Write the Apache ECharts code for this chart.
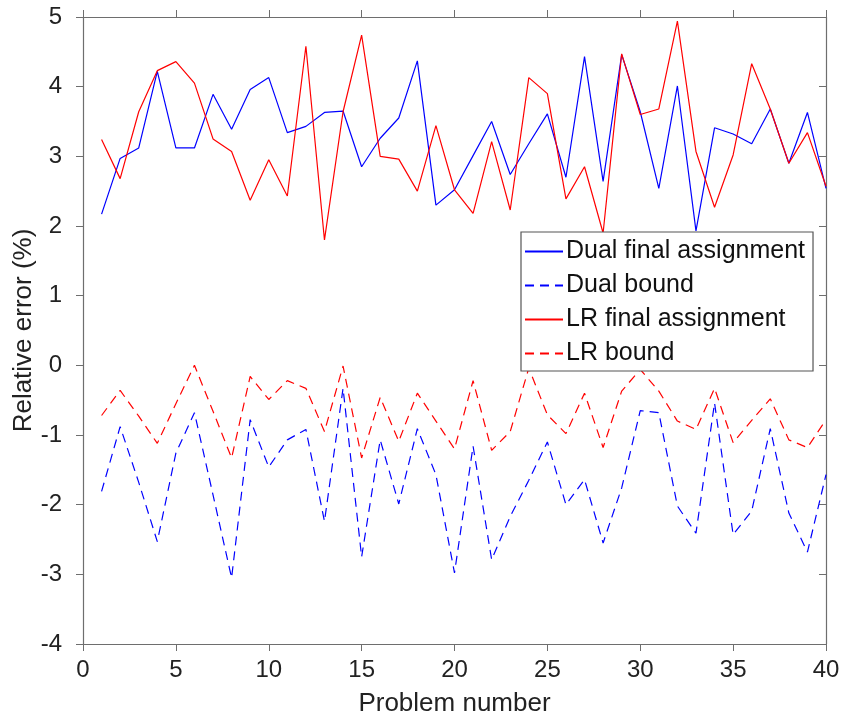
<!DOCTYPE html>
<html>
<head>
<meta charset="utf-8">
<script src="https://cdn.jsdelivr.net/npm/echarts@6/dist/echarts.min.js"></script>
<style>html,body{margin:0;padding:0;background:#fff}#c{width:842px;height:721px}</style>
</head>
<body>
<div id="c"></div>
<script>
const problemNumbers = [1,2,3,4,5,6,7,8,9,10,11,12,13,14,15,16,17,18,19,20,21,22,23,24,25,26,27,28,29,30,31,32,33,34,35,36,37,38,39,40];
const dualFinal = [2.17,2.97,3.12,4.22,3.12,3.12,3.89,3.39,3.96,4.13,3.34,3.43,3.63,3.65,2.85,3.26,3.55,4.37,2.30,2.52,3.01,3.50,2.74,3.18,3.61,2.70,4.43,2.64,4.46,3.64,2.54,4.01,1.93,3.41,3.32,3.18,3.68,2.90,3.63,2.54];
const dualBound = [-1.81,-0.88,-1.68,-2.53,-1.26,-0.68,-1.86,-3.05,-0.78,-1.46,-1.07,-0.92,-2.24,-0.33,-2.75,-1.07,-1.99,-0.91,-1.57,-2.98,-1.16,-2.79,-2.17,-1.65,-1.10,-2.00,-1.64,-2.55,-1.76,-0.65,-0.68,-2.02,-2.41,-0.54,-2.43,-2.09,-0.91,-2.12,-2.68,-1.57];
const lrFinal = [3.24,2.68,3.64,4.23,4.36,4.05,3.25,3.07,2.37,2.95,2.43,4.58,1.80,3.64,4.74,3.00,2.96,2.50,3.44,2.52,2.18,3.21,2.23,4.13,3.90,2.39,2.85,1.90,4.47,3.60,3.68,4.94,3.07,2.27,3.02,4.33,3.68,2.90,3.34,2.57];
const lrBound = [-0.72,-0.36,-0.73,-1.12,-0.55,0.0,-0.66,-1.33,-0.16,-0.49,-0.22,-0.33,-0.95,-0.01,-1.33,-0.46,-1.09,-0.40,-0.80,-1.20,-0.22,-1.22,-0.95,-0.04,-0.71,-0.98,-0.40,-1.18,-0.37,-0.06,-0.37,-0.80,-0.92,-0.33,-1.11,-0.79,-0.48,-1.07,-1.18,-0.78];
const seriesNames = ['Dual final assignment','Dual bound','LR final assignment','LR bound'];
const xTicks = {min:0, max:40, interval:5};
const yTicks = {min:-4, max:5, interval:1};

const pair = arr => problemNumbers.map((x,i)=>[x, arr[i]]);
const font = "'Liberation Sans', Arial, sans-serif";
const axisCol = '#6e6e6e';
const chart = echarts.init(document.getElementById('c'), null, {renderer:'canvas'});
const baseX = {type:'value', min:xTicks.min, max:xTicks.max, interval:xTicks.interval,
  axisLine:{show:true, onZero:false, lineStyle:{color:axisCol, width:1.2}},
  axisTick:{show:true, length:7, lineStyle:{color:axisCol}},
  splitLine:{show:false}};
const baseY = {type:'value', min:yTicks.min, max:yTicks.max, interval:yTicks.interval,
  axisLine:{show:true, onZero:false, lineStyle:{color:axisCol, width:1.2}},
  axisTick:{show:true, length:7, lineStyle:{color:axisCol}},
  splitLine:{show:false}};
chart.setOption({
  animation:false,
  backgroundColor:'#fff',
  grid:{left:83, right:16, top:17, bottom:77, containLabel:false, outerBoundsMode:'none'},
  xAxis:[
    Object.assign({}, baseX, {position:'bottom', name:'Problem number', nameLocation:'middle', nameGap:47, nameMoveOverlap:false,
      nameTextStyle:{fontFamily:font, fontSize:26, color:'#222'},
      axisLabel:{fontFamily:font, fontSize:24, color:'#222', margin:14}}),
    Object.assign({}, baseX, {position:'top', axisLabel:{show:false}})
  ],
  yAxis:[
    Object.assign({}, baseY, {position:'left', name:'Relative error (%)', nameLocation:'middle', nameGap:46, nameMoveOverlap:false,
      nameTextStyle:{fontFamily:font, fontSize:26, color:'#222'},
      axisLabel:{fontFamily:font, fontSize:24, color:'#222', margin:21}}),
    Object.assign({}, baseY, {position:'right', axisLabel:{show:false}, axisTick:{show:true, inside:true, length:7, lineStyle:{color:axisCol}}})
  ],
  legend:{
    orient:'vertical', left:521, top:232,
    data:seriesNames,
    itemWidth:38, itemHeight:14, itemGap:9,
    padding:[7,8,5,3],
    itemStyle:{opacity:0},
    backgroundColor:'#fff', borderColor:'#555', borderWidth:1.2,
    textStyle:{fontFamily:font, fontSize:25, color:'#111', lineHeight:24, padding:[0,0,0,-2]}
  },
  series:[
    {name:seriesNames[0], type:'line', data:pair(dualFinal), symbol:'none', lineStyle:{color:'#0000ff', width:1.2}, itemStyle:{color:'#0000ff'}},
    {name:seriesNames[1], type:'line', data:pair(dualBound), symbol:'none', lineStyle:{color:'#0000ff', width:1.2, type:[9,6]}, itemStyle:{color:'#0000ff'}},
    {name:seriesNames[2], type:'line', data:pair(lrFinal), symbol:'none', lineStyle:{color:'#ff0000', width:1.2}, itemStyle:{color:'#ff0000'}},
    {name:seriesNames[3], type:'line', data:pair(lrBound), symbol:'none', lineStyle:{color:'#ff0000', width:1.2, type:[9,6]}, itemStyle:{color:'#ff0000'}}
  ]
});
</script>
</body>
</html>
